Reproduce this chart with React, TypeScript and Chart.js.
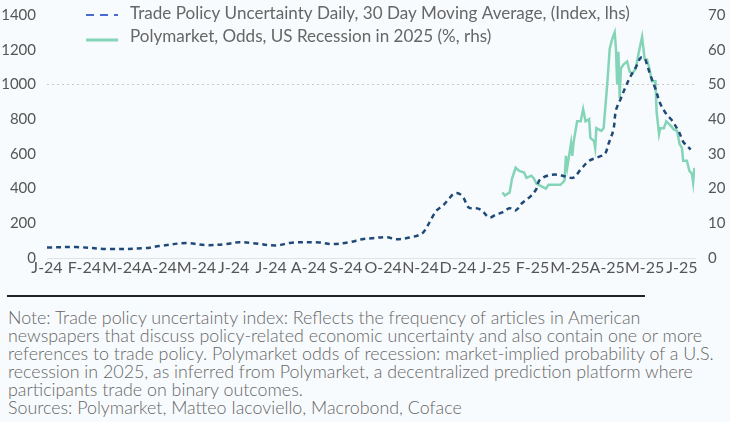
import React, { useEffect, useMemo, useRef } from "react";
import { Chart, registerables } from "chart.js";

Chart.register(...registerables);

const tickLabels = ["J-24", "F-24", "M-24", "A-24", "M-24", "J-24", "J-24", "A-24", "S-24", "O-24", "N-24", "D-24", "J-25", "F-25", "M-25", "A-25", "M-25", "J-25"];

const leftTicks = [0, 200, 400, 600, 800, 1000, 1200, 1400];
const rightTicks = [0, 10, 20, 30, 40, 50, 60, 70];

const tpuDates = [
  "2024-01-01", "2024-01-25", "2024-02-20", "2024-03-21", "2024-04-01", "2024-04-23", "2024-05-09", "2024-05-26",
  "2024-06-05", "2024-06-16", "2024-07-05", "2024-07-18", "2024-08-10", "2024-08-20", "2024-09-04", "2024-09-14",
  "2024-09-22", "2024-10-04", "2024-10-12", "2024-10-23", "2024-11-02", "2024-11-06", "2024-11-10", "2024-11-14",
  "2024-11-20", "2024-11-24", "2024-11-28", "2024-12-02", "2024-12-06", "2024-12-10", "2024-12-17", "2024-12-21",
  "2024-12-27", "2025-01-02", "2025-01-07", "2025-01-13", "2025-01-18", "2025-01-23", "2025-01-31", "2025-02-04",
  "2025-02-06", "2025-02-12", "2025-02-20", "2025-02-26", "2025-03-04", "2025-03-10", "2025-03-17", "2025-03-24",
  "2025-03-30", "2025-04-02", "2025-04-06", "2025-04-08", "2025-04-12", "2025-04-16", "2025-04-20", "2025-04-24",
  "2025-04-28", "2025-05-01", "2025-05-03", "2025-05-06", "2025-05-10", "2025-05-14", "2025-05-19", "2025-05-24",
  "2025-05-30", "2025-06-02", "2025-06-08"
];
const tpuValues = [
  60, 63, 52, 57, 69, 86, 74, 80,
  91, 86, 72, 88, 90, 80, 91, 108,
  114, 120, 108, 118, 140, 177, 229, 274,
  309, 343, 371, 371, 343, 291, 286, 274,
  234, 251, 263, 286, 274, 314, 360, 400,
  446, 474, 480, 469, 463, 510, 560, 580,
  600, 657, 740, 850, 920, 990, 1050, 1100,
  1155, 1150, 1114, 1050, 975, 890, 830, 790,
  720, 670, 625
];

const pmDates = [
  "2025-01-07", "2025-01-09", "2025-01-13", "2025-01-15", "2025-01-18", "2025-01-21", "2025-01-25", "2025-01-27",
  "2025-01-31", "2025-02-02", "2025-02-04", "2025-02-11", "2025-02-13", "2025-02-22", "2025-02-25", "2025-02-26",
  "2025-02-27", "2025-03-02", "2025-03-03", "2025-03-04", "2025-03-07", "2025-03-10", "2025-03-12", "2025-03-14",
  "2025-03-17", "2025-03-18", "2025-03-21", "2025-03-22", "2025-03-23", "2025-03-27", "2025-03-29", "2025-04-01",
  "2025-04-03", "2025-04-05", "2025-04-07", "2025-04-08", "2025-04-09", "2025-04-10", "2025-04-11", "2025-04-12",
  "2025-04-14", "2025-04-17", "2025-04-19", "2025-04-21", "2025-04-24", "2025-04-26", "2025-04-29", "2025-05-01",
  "2025-05-03", "2025-05-05", "2025-05-07", "2025-05-10", "2025-05-11", "2025-05-13", "2025-05-14", "2025-05-17",
  "2025-05-19", "2025-05-23", "2025-05-25", "2025-05-28", "2025-05-30", "2025-06-01", "2025-06-02", "2025-06-05",
  "2025-06-07", "2025-06-09", "2025-06-10", "2025-06-11"
];
const pmValues = [
  18.9, 18, 18.9, 22.9, 26, 25.1, 24.6, 23.1,
  23.7, 22.9, 21.4, 20, 21.1, 21.1, 22.3, 29.4,
  26, 33.1, 29.4, 33.1, 39.4, 39.4, 42.9, 39.4,
  40, 34.6, 33.7, 31.7, 37.4, 36.6, 37.4, 50,
  60.3, 63.1, 65, 60.3, 50, 59.4, 46, 54.6,
  55.7, 56.6, 53.7, 53.1, 54.6, 58.6, 63.7, 57.4,
  57.1, 54.6, 50.9, 50.9, 42, 35.7, 37.4, 37.4,
  39.4, 38, 37.1, 36.6, 32.9, 31.7, 28, 28,
  25.1, 24.3, 21.7, 26
];

const legendLabels = [
  "Trade Policy Uncertainty Daily, 30 Day Moving Average, (Index, lhs)",
  "Polymarket, Odds, US Recession in 2025 (%, rhs)"
];

const noteLines = [
  "Note: Trade policy uncertainty index: Reflects the frequency of articles in American",
  "newspapers that discuss policy-related economic uncertainty and also contain one or more",
  "references to trade policy. Polymarket odds of recession: market-implied probability of a U.S.",
  "recession in 2025, as inferred from Polymarket, a decentralized prediction platform where",
  "participants trade on binary outcomes.",
  "Sources: Polymarket, Matteo Iacoviello, Macrobond, Coface"
];

const FONT = "Lato, 'Noto Sans', sans-serif";
const TPU_COLOR = "#1f4a78";
const PM_COLOR = "#84d5b7";
const CANVAS_SHIFT = 7;

function toMonth(s: string): number {
  const [y, m, d] = s.split("-").map(Number);
  const dim = new Date(y, m, 0).getDate();
  return (y - 2024) * 12 + (m - 1) + (d - 1) / dim;
}

function fitSize(text: string, weight: number, target: number): number {
  const c = document.createElement("canvas").getContext("2d")!;
  c.font = `${weight} 100px ${FONT}`;
  const w = c.measureText(text).width;
  return w > 0 ? (100 * target) / w : 16;
}

const legendPlugin = {
  id: "customLegend",
  afterDraw(chart: any) {
    const ctx = chart.ctx;
    ctx.save();
    ctx.font = `400 100px ${FONT}`;
    const w100 = ctx.measureText(legendLabels[0]).width;
    const size = w100 > 0 ? Math.round(((100 * 500) / w100) * 100) / 100 : 17;
    ctx.font = `400 ${size}px ${FONT}`;
    ctx.fillStyle = "#666666";
    ctx.textBaseline = "alphabetic";
    ctx.textAlign = "left";
    ctx.strokeStyle = "#4a6bd0";
    ctx.lineWidth = 2;
    ctx.setLineDash([8, 6]);
    ctx.beginPath();
    ctx.moveTo(86, 15 + CANVAS_SHIFT);
    ctx.lineTo(118, 15 + CANVAS_SHIFT);
    ctx.stroke();
    ctx.fillText(legendLabels[0], 130, 18.5 + CANVAS_SHIFT);
    ctx.setLineDash([]);
    ctx.strokeStyle = PM_COLOR;
    ctx.lineWidth = 3;
    ctx.beginPath();
    ctx.moveTo(86, 40 + CANVAS_SHIFT);
    ctx.lineTo(118, 40 + CANVAS_SHIFT);
    ctx.stroke();
    ctx.fillText(legendLabels[1], 130, 42 + CANVAS_SHIFT);
    ctx.restore();
  }
};

export default function App() {
  const canvasRef = useRef<HTMLCanvasElement | null>(null);
  const noteSize = useMemo(() => fitSize(noteLines[2], 300, 707), []);

  useEffect(() => {
    document.body.style.margin = "0";
    document.body.style.background = "#f8fbfd";
    const canvas = canvasRef.current!;
    const chart = new Chart(canvas, {
      type: "line",
      data: {
        datasets: [
          {
            label: legendLabels[0],
            data: tpuDates.map((d, i) => ({ x: toMonth(d), y: tpuValues[i] })),
            yAxisID: "y",
            borderColor: TPU_COLOR,
            borderWidth: 2.5,
            borderDash: [5, 4],
            pointRadius: 0,
            tension: 0.35,
            fill: false,
            order: 0
          },
          {
            label: legendLabels[1],
            data: pmDates.map((d, i) => ({ x: toMonth(d), y: pmValues[i] })),
            yAxisID: "y1",
            borderColor: PM_COLOR,
            borderWidth: 2.5,
            pointRadius: 0,
            tension: 0,
            fill: false,
            order: 1
          }
        ]
      },
      options: {
        animation: false,
        responsive: false,
        maintainAspectRatio: false,
        layout: { padding: { top: 3, left: 0, right: 0, bottom: 0 } },
        plugins: { legend: { display: false }, tooltip: { enabled: false } },
        scales: {
          x: {
            type: "linear",
            min: 0,
            max: 17.35,
            afterFit: (s: any) => { s.height = 27; },
            grid: { display: false, drawTicks: false },
            border: { display: true, color: "#e2e2e2", width: 1 },
            ticks: {
              stepSize: 1,
              includeBounds: false,
              autoSkip: false,
              maxRotation: 0,
              minRotation: 0,
              padding: 0,
              color: "#555555",
              font: { family: FONT, size: 16 },
              callback: (v: any) => (Number.isInteger(v) ? tickLabels[v] : "")
            }
          },
          y: {
            position: "left",
            min: 0,
            max: 1400,
            afterFit: (s: any) => { s.width = 47; },
            afterBuildTicks: (s: any) => { s.ticks = leftTicks.map((v) => ({ value: v })); },
            border: { display: false, dash: [2, 3] },
            grid: {
              drawTicks: false,
              lineWidth: 1,
              color: (c: any) => (c.tick && c.tick.value === 1000 ? "#c9c9c9" : "rgba(0,0,0,0)")
            },
            ticks: {
              padding: 11,
              color: "#555555",
              font: { family: FONT, size: 15 },
              callback: (v: any) => String(v)
            }
          },
          y1: {
            position: "right",
            min: 0,
            max: 70,
            afterFit: (s: any) => { s.width = 35; },
            afterBuildTicks: (s: any) => { s.ticks = rightTicks.map((v) => ({ value: v })); },
            border: { display: false },
            grid: { display: false, drawTicks: false },
            ticks: {
              padding: 13,
              color: "#555555",
              font: { family: FONT, size: 15 },
              callback: (v: any) => String(v)
            }
          }
        }
      },
      plugins: [legendPlugin]
    } as any);
    return () => chart.destroy();
  }, []);

  return (
    <div style={{ position: "relative", width: 730, height: 422, overflow: "hidden", background: "#f8fbfd", fontFamily: FONT }}>
      <canvas ref={canvasRef} width={730} height={292} style={{ position: "absolute", left: 0, top: -CANVAS_SHIFT, width: 730, height: 292 }} />
      <div style={{ position: "absolute", left: 7, top: 294.5, width: 638, height: 2.5, background: "#222222" }} />
      <div style={{ position: "absolute", left: 8, top: 308, fontSize: noteSize, fontWeight: 300, lineHeight: "18px", color: "#666666", whiteSpace: "nowrap" }}>
        {noteLines.map((l, i) => (
          <div key={i}>{l}</div>
        ))}
      </div>
    </div>
  );
}
